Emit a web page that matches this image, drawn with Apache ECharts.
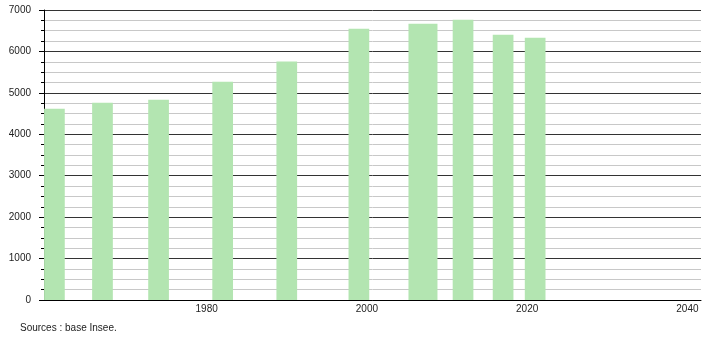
<!DOCTYPE html>
<html>
<head>
<meta charset="utf-8">
<script src="https://cdn.jsdelivr.net/npm/echarts@6/dist/echarts.min.js"></script>
<style>html,body{margin:0;padding:0;background:#fff}#c{width:710px;height:340px}</style>
</head>
<body>
<div id="c"></div>
<script>
// Data
var years = [1961, 1967, 1974, 1982, 1990, 1999, 2007, 2012, 2017, 2021];
var population = [4615, 4760, 4832, 5267, 5757, 6547, 6668, 6765, 6403, 6330];
var wideYears = [2007]; // the one bar drawn wider in the reference
var xTickLabels = [1980, 2000, 2020, 2040];
var yTickLabels = [0, 1000, 2000, 3000, 4000, 5000, 6000, 7000];
var sourceText = 'Sources : base Insee.';

var narrowData = [], wideData = [];
for (var i = 0; i < years.length; i++) {
  if (wideYears.indexOf(years[i]) >= 0) wideData.push([years[i], population[i]]);
  else narrowData.push([years[i], population[i]]);
}

var FONT = '"Liberation Sans", Arial, sans-serif';
var BAR = '#b3e5b1';
var chart = echarts.init(document.getElementById('c'), null, {renderer: 'canvas'});
chart.setOption({
  animation: false,
  backgroundColor: '#ffffff',
  grid: {left: 44, right: 9, top: 10, bottom: 40, outerBoundsMode: 'none', containLabel: false},
  graphic: [{
    type: 'text', left: 20, top: 323,
    style: {text: sourceText, fill: '#222', font: '10px ' + FONT}
  }],
  xAxis: [{
    type: 'value', min: 1959.7, max: 2041.7,
    axisLine: {show: true, onZero: false, lineStyle: {color: '#000', width: 1}},
    axisTick: {show: false},
    splitLine: {show: false},
    axisLabel: {customValues: xTickLabels, color: '#222', fontSize: 10, fontFamily: FONT, margin: 4,
      formatter: function (v) { return String(v); }}
  }, {
    type: 'value', min: 1959.7, max: 2041.7, show: false,
    splitLine: {show: false}
  }],
  yAxis: {
    type: 'value', min: 0, max: 7000, interval: 1000,
    axisLine: {show: true, lineStyle: {color: '#000', width: 1}},
    axisTick: {show: true, length: 5, lineStyle: {color: '#000'}},
    minorTick: {show: true, splitNumber: 4, length: 3, lineStyle: {color: '#000'}},
    splitLine: {show: true, lineStyle: {color: '#333', width: 1}},
    minorSplitLine: {show: true, lineStyle: {color: '#c8c8c8', width: 1}},
    axisLabel: {color: '#222', fontSize: 10, fontFamily: FONT, margin: 13,
      customValues: yTickLabels,
      formatter: function (v) { return String(v); }}
  },
  series: [{
    type: 'bar', xAxisIndex: 0, data: narrowData, barWidth: 20.7,
    itemStyle: {color: BAR}
  }, {
    type: 'bar', xAxisIndex: 1, data: wideData, barWidth: 29,
    itemStyle: {color: BAR}
  }]
});
</script>
</body>
</html>
